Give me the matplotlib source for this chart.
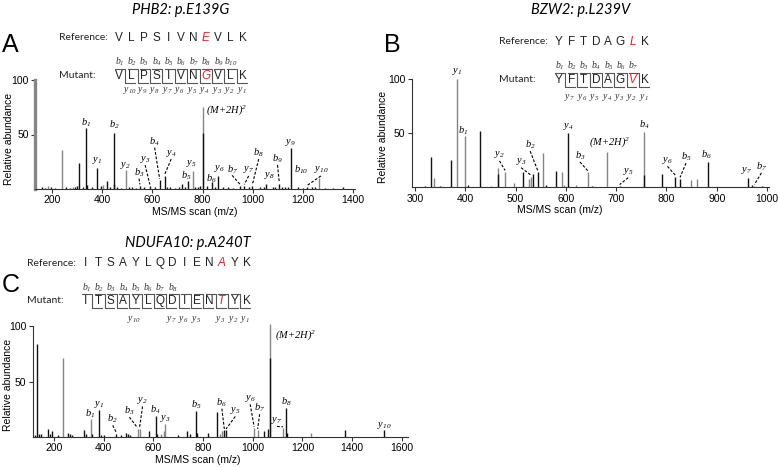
import matplotlib
matplotlib.use("Agg")
import matplotlib.pyplot as plt

plt.rcParams['font.family'] = ['Liberation Sans', 'DejaVu Sans']
plt.rcParams['mathtext.fontset'] = 'custom'
plt.rcParams['mathtext.rm'] = 'Liberation Serif:italic'
plt.rcParams['mathtext.it'] = 'Liberation Serif:italic'

W, H = 778, 467
PAL = {'k': '#111111', 'g': '#858585'}

# ---- panel A: PHB2 p.E139G ----
a_mz = [160, 172, 184, 195, 210, 238, 255, 270, 283, 290, 300, 309, 325, 335, 340, 360,
        380, 395, 403, 418, 430, 446, 449, 460, 475, 493, 505, 520, 535, 550, 565, 590,
        610, 629, 649, 660, 670, 690, 705, 717, 730, 741, 761, 770, 780, 790, 801, 801,
        818, 838, 850, 861, 880, 900, 920, 950, 967, 985, 999, 1030, 1045, 1053, 1080,
        1090, 1106, 1115, 1130, 1140, 1152, 1180, 1200, 1217, 1235, 1250, 1265, 1290,
        1320, 1360]
a_int = [1.5, 1, 3, 1.5, 1, 36, 1.5, 1, 2, 2, 3, 24, 1.5, 55.7, 4, 1.5,
         19.5, 3, 4, 7, 2, 51.7, 5, 1.5, 1, 17.4, 1.5, 2, 1, 3, 2, 3,
         2, 8, 12, 1.5, 2, 1, 2, 5, 1.5, 7, 16.5, 2, 1.5, 3, 75.5, 51,
         3, 6, 2, 12, 1.5, 2, 1, 3, 3, 1.5, 3, 2, 1.5, 5, 2,
         1.5, 5, 2, 2, 1.5, 38, 2, 1, 2, 1.5, 2, 10, 1,
         1, 2]
a_col = ['k', 'k', 'g', 'k', 'k', 'g', 'k', 'k', 'g', 'k', 'k', 'k', 'k', 'k', 'k', 'k',
         'k', 'k', 'g', 'k', 'k', 'k', 'k', 'k', 'k', 'g', 'k', 'k', 'k', 'k', 'k', 'k',
         'k', 'k', 'k', 'k', 'k', 'k', 'k', 'k', 'k', 'k', 'g', 'k', 'k', 'k', 'g', 'k',
         'k', 'k', 'k', 'k', 'k', 'k', 'k', 'k', 'k', 'k', 'k', 'k', 'k', 'k', 'k',
         'k', 'k', 'k', 'k', 'k', 'k', 'k', 'k', 'k', 'k', 'k', 'g', 'k',
         'k', 'k']
a_lab = ['b1', 'b2', 'y1', 'y2', 'b3', 'y3', 'b4', 'y4', 'b5', 'y5', 'b6', 'y6',
         'b7', 'y7', 'b8', 'y8', 'b9', 'y9', 'b10', 'y10']
a_lab_mz = [335, 448, 379, 493, 547, 571, 609, 675, 737, 757, 834, 867,
            918, 984, 1024, 1066, 1099, 1152, 1192, 1272]
a_lab_y = [61, 58.7, 26.6, 22, 15, 27.5, 43.4, 33, 12, 23, 9.5, 19,
           18, 17.5, 33, 12, 27.5, 43, 18, 17.5]
a_lab_to = [None, None, None, None, 550, 590, 629, 649, None, None, None, None,
            950, 967, 999, None, 1106, None, None, 1217]
a_prec = (815, 72, 'left')
a_ref = "VLPSIVNEVLK"
a_mut = "VLPSIVNGVLK"
a_site = 7
a_b = list(range(1, 11))
a_y = list(range(10, 0, -1))

# ---- panel B: BZW2 p.L239V ----
b_mz = [320, 331, 338, 350, 371, 384, 399, 405, 429, 452, 466, 465, 479, 497, 515,
        527, 531, 534, 544, 555, 561, 580, 593, 597, 605, 620, 644, 652, 681, 707,
        756, 756, 792, 818, 827, 848, 860, 882, 963, 970, 975, 990]
b_int = [1.5, 27.8, 8.5, 1.5, 25, 100, 47.5, 2, 52, 1.5, 18, 12, 14.6, 4, 14.6,
         8, 10, 12, 14.5, 31.5, 2, 15, 14.6, 2, 50, 2, 14, 1.5, 33, 1.5,
         51.4, 11.5, 12.4, 10, 8, 7, 7.5, 23.8, 9, 2, 1.5, 1]
b_col = ['k', 'k', 'g', 'k', 'k', 'g', 'g', 'k', 'k', 'g', 'g', 'k', 'g', 'g', 'k',
         'g', 'g', 'k', 'k', 'g', 'k', 'k', 'g', 'g', 'k', 'g', 'g', 'k', 'g', 'k',
         'g', 'k', 'k', 'k', 'k', 'g', 'g', 'k', 'k', 'k', 'g', 'k']
b_lab = ['y1', 'b1', 'y2', 'y3', 'b2', 'y4', 'b3', 'y5', 'b4', 'y6', 'b5', 'b6',
         'y7', 'b7']
b_lab_mz = [384, 396, 468, 511, 529, 605, 628, 724, 756, 802, 839, 879, 959, 989]
b_lab_y = [106.5, 52, 30, 23.8, 39, 56, 29, 14.6, 57.6, 25, 28, 30.6, 15.5, 19]
b_lab_to = [None, None, 479, 531, 544, None, 644, 707, None, 818, 827, None, None, 975]
b_prec = (688, 42, 'center')
b_ref = "YFTDAGLK"
b_mut = "YFTDAGVK"
b_site = 6
b_b = list(range(1, 8))
b_y = list(range(7, 0, -1))

# ---- panel C: NDUFA10 p.A240T ----
c_mz = [125, 134, 140, 150, 178, 183, 194, 215, 236, 259, 265, 272, 322, 330, 349,
        355, 382, 390, 400, 451, 470, 489, 497, 505, 537, 545, 581, 612, 617, 632,
        643, 648, 700, 735, 746, 773, 776, 820, 856, 868, 875, 886, 893, 1006, 1020,
        1044, 1060, 1071, 1071, 1122, 1135, 1139, 1234, 1373, 1528]
c_int = [2, 84, 3, 3, 7, 3, 5, 2, 71, 4, 3, 2, 6, 3, 16,
         3, 24.3, 2, 2, 3, 2, 4, 3, 2, 7, 7.5, 5, 19, 3, 3,
         5, 11.7, 2, 5, 3, 23.7, 4, 4, 22.5, 3, 5, 6, 6, 8, 6,
         5, 7.5, 102, 71, 8, 26, 4, 4, 6, 6.5]
c_col = ['k', 'k', 'k', 'k', 'k', 'k', 'k', 'k', 'g', 'k', 'k', 'k', 'k', 'k', 'g',
         'k', 'k', 'k', 'k', 'k', 'k', 'k', 'k', 'k', 'g', 'g', 'k', 'k', 'k', 'g',
         'g', 'g', 'k', 'k', 'k', 'k', 'k', 'k', 'k', 'g', 'g', 'k', 'k', 'g', 'g',
         'k', 'k', 'g', 'k', 'g', 'k', 'k', 'g', 'k', 'k']
c_lab = ['b1', 'y1', 'b2', 'b3', 'y2', 'b4', 'y3', 'b5', 'b6', 'y5', 'y6', 'b7',
         'y7', 'b8', 'y10']
c_lab_mz = [346, 382, 437, 504, 557, 608, 648, 773, 876, 930, 990, 1028, 1098, 1135, 1530]
c_lab_y = [21, 29.5, 16, 23.4, 33, 25, 17, 29.5, 31, 24, 35, 26, 15, 32, 10]
c_lab_to = [None, None, 451, 537, 545, None, None, None, 886, 893, 1006, 1020, 1122,
            None, None]
c_prec = (1091, 92, 'left')
c_ref = "ITSAYLQDIENAYK"
c_mut = "ITSAYLQDIENTYK"
c_site = 11
c_b = list(range(1, 9))
c_y = [10, 7, 6, 5, 3, 2, 1]

fig = plt.figure(figsize=(W / 100, H / 100), dpi=100)


def rect(l, r, t, b):
    return [l / W, 1 - b / H, (r - l) / W, (b - t) / H]


def ion(t):
    return f'${t[0]}_{{{t[1:]}}}$'


def spectrum(ax, mz, inten, col, xlim, xticks, lab, lab_mz, lab_y, lab_to, prec):
    ax.vlines(mz, 0, inten, colors=[PAL[c] for c in col], lw=1.0, clip_on=False)
    ax.set_xlim(xlim)
    ax.set_ylim(0, 100)
    ax.set_xticks(xticks)
    ax.set_yticks([50, 100])
    ax.patch.set_alpha(0)
    for s in ['top', 'right']:
        ax.spines[s].set_visible(False)
    for s in ['left', 'bottom']:
        ax.spines[s].set_linewidth(0.8)
        ax.spines[s].set_color('#333333')
    ax.tick_params(labelsize=7.5, length=3, width=0.8, pad=1.5, color='#333333')
    for t, x, y, to in zip(lab, lab_mz, lab_y, lab_to):
        ax.text(x, y, ion(t), ha='center', va='center', fontsize=7.5, clip_on=False)
        if to is not None:
            h = max(i for m, i in zip(mz, inten) if abs(m - to) < 1)
            ax.plot([x, to], [y - 5.5, h + 1.2], ls=(0, (2.5, 1.5)), color='k',
                    lw=0.8, clip_on=False)
    ax.text(prec[0], prec[1], r'$(M\!+\!2H)^2$', ha=prec[2], va='center',
            fontsize=7.5, clip_on=False)


axA = fig.add_axes(rect(35, 355, 80, 189))
spectrum(axA, a_mz, a_int, a_col, (132, 1408), range(200, 1401, 200),
         a_lab, a_lab_mz, a_lab_y, a_lab_to, a_prec)
axA.spines['left'].set_linewidth(2.4)
axA.spines['left'].set_color('#858585')

axB = fig.add_axes(rect(411.5, 769, 79, 187.5))
spectrum(axB, b_mz, b_int, b_col, (293, 1004), range(300, 1001, 100),
         b_lab, b_lab_mz, b_lab_y, b_lab_to, b_prec)

axC = fig.add_axes(rect(32.7, 408, 326, 437))
spectrum(axC, c_mz, c_int, c_col, (115, 1625), range(200, 1601, 200),
         c_lab, c_lab_mz, c_lab_y, c_lab_to, c_prec)

ov = fig.add_axes([0, 0, 1, 1], zorder=5)
ov.set_xlim(0, W)
ov.set_ylim(H, 0)
ov.axis('off')
ov.patch.set_alpha(0)


def sequence(ref, mut, site, bions, yions, x0, step, lab_x, y_ref, y_mut, b_dy, y_dy):
    n = len(mut)
    xs = [x0 + i * step for i in range(n)]
    ov.text(lab_x, y_ref, 'Reference:', ha='left', va='center', fontsize=7.5,
            family='Lato', color='#222222')
    ov.text(lab_x, y_mut, 'Mutant:', ha='left', va='center', fontsize=7.5,
            family='Lato', color='#222222')
    for i in range(n):
        red = i == site
        for row, seq in ((y_ref, ref), (y_mut, mut)):
            ov.text(xs[i], row, seq[i], ha='center', va='center', fontsize=8.5,
                    color='#e8202a' if red else '#222222',
                    style='italic' if red else 'normal')
    top, bot = y_mut - 7, y_mut + 7
    hook = step - 2.5
    for k in range(n - 1):
        xb = (xs[k] + xs[k + 1]) / 2
        ov.plot([xb - hook, xb, xb, xb + hook], [top, top, bot, bot],
                color='#555555', lw=0.8)
    for i in bions:
        ov.text(xs[i - 1] + 0.5, y_mut - b_dy, ion('b' + str(i)), ha='center',
                va='center', fontsize=7, color='#333333')
    for k in yions:
        ov.text(xs[n - k] - 1.5, y_mut + y_dy, ion('y' + str(k)), ha='center',
                va='center', fontsize=7, color='#333333')


sequence(a_ref, a_mut, a_site, a_b, a_y, 119, 12.4, 59, 38, 76, 14, 14)
sequence(b_ref, b_mut, b_site, b_b, b_y, 559, 12.3, 499, 42, 80, 14.3, 17.5)
sequence(c_ref, c_mut, c_site, c_b, c_y, 86, 12.36, 27, 263, 300.7, 13.4, 19)

ttl = dict(ha='center', va='center', fontsize=10.5, style='italic', family='Lato')
ov.text(181, 10, 'PHB2: p.E139G', **ttl)
ov.text(581, 10, 'BZW2: p.L239V', **ttl)
ov.text(188, 243, 'NDUFA10: p.A240T', **ttl)

pan = dict(ha='left', va='center', fontsize=18)
ov.text(2, 45, 'A', **pan)
ov.text(384, 45, 'B', **pan)
ov.text(2, 285, 'C', **pan)

yl = dict(ha='center', va='center', rotation=90, fontsize=7.5)
ov.text(9, 139, 'Relative abundance', **yl)
ov.text(383, 137, 'Relative abundance', **yl)
ov.text(8, 385, 'Relative abundance', **yl)
xl = dict(ha='center', va='center', fontsize=7.5)
ov.text(195, 212, 'MS/MS scan (m/z)', **xl)
ov.text(560, 210, 'MS/MS scan (m/z)', **xl)
ov.text(198, 460, 'MS/MS scan (m/z)', **xl)

fig.savefig('out.png', dpi=100)
